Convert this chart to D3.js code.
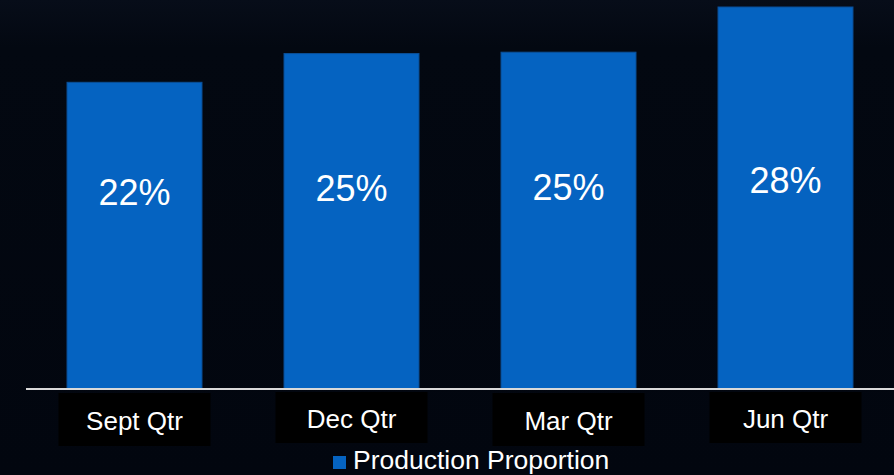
<!DOCTYPE html>
<html>
<head>
<meta charset="utf-8">
<script src="https://cdn.jsdelivr.net/npm/d3@7/dist/d3.min.js"></script>
<style>
  html, body { margin: 0; padding: 0; background: #02060f; }
  svg { display: block; }
</style>
</head>
<body>
<div id="chartDiv"></div>
<script>
// chart data
const categories = ["Sept Qtr", "Dec Qtr", "Mar Qtr", "Jun Qtr"];
const values = [22.4, 24.5, 24.6, 27.9];   // % production proportion
const legendLabel = "Production Proportion";

const width = 894,
    height = 475;
const margin = { left: 26, right: 0, top: 7, bottom: 86 };
const baseY = height - margin.bottom; // axis line

const svg = d3.select("#chartDiv")
    .append("svg")
    .attr("width", width)
    .attr("height", height);

// background, only a touch lighter at the top
const defs = svg.append("defs");
const grad = defs.append("linearGradient")
    .attr("id", "bg")
    .attr("x1", 0).attr("y1", 0).attr("x2", 0).attr("y2", 1);
grad.append("stop").attr("offset", "0%").attr("stop-color", "#070d19");
grad.append("stop").attr("offset", "10%").attr("stop-color", "#030811");
grad.append("stop").attr("offset", "100%").attr("stop-color", "#02060f");
svg.append("rect")
    .attr("width", width)
    .attr("height", height)
    .attr("fill", "url(#bg)");

const x = d3.scaleBand()
    .domain(categories)
    .range([margin.left, width - margin.right])
    .paddingInner(0.378)
    .paddingOuter(0.189);

const y = d3.scaleLinear()
    .domain([0, d3.max(values)])
    .range([baseY, margin.top]);

const data = categories.map((c, i) => ({ cat: c, value: values[i], i: i }));

// bars
svg.selectAll("rect.bar")
    .data(data)
    .enter()
    .append("rect")
    .attr("class", "bar")
    .attr("x", d => x(d.cat))
    .attr("y", d => y(d.value))
    .attr("width", x.bandwidth())
    .attr("height", d => y(0) - y(d.value))
    .attr("fill", "#0563c1")
    .attr("stroke", "#0b4f97")
    .attr("stroke-width", 1);

// value labels (sit a little lower on shorter bars)
svg.selectAll("text.val")
    .data(data)
    .enter()
    .append("text")
    .attr("class", "val")
    .attr("x", d => x(d.cat) + x.bandwidth() / 2)
    .attr("y", d => y(d.value) + (y(0) - y(d.value)) * 0.838 - 134)
    .attr("text-anchor", "middle")
    .attr("fill", "#ffffff")
    .style("font-family", "Liberation Sans, Arial, sans-serif")
    .style("font-size", "36px")
    .text(d => Math.round(d.value) + "%");

// axis line
svg.append("line")
    .attr("x1", margin.left)
    .attr("x2", width)
    .attr("y1", baseY)
    .attr("y2", baseY)
    .style("stroke", "#d9d9d9")
    .style("stroke-width", 2);

// category labels in black boxes
const cat = svg.selectAll("g.cat")
    .data(data)
    .enter()
    .append("g")
    .attr("class", "cat")
    .attr("transform", d => "translate(" + (x(d.cat) + x.bandwidth() / 2) + "," + (baseY + (d.i % 2 ? 3 : 4)) + ")");

cat.append("rect")
    .attr("x", -76)
    .attr("y", 0)
    .attr("width", 152)
    .attr("height", d => d.i % 2 ? 51 : 53)
    .attr("fill", "#000000");

cat.append("text")
    .attr("x", 0)
    .attr("y", d => d.i % 2 ? 36 : 37)
    .attr("text-anchor", "middle")
    .attr("fill", "#ffffff")
    .style("font-family", "Liberation Sans, Arial, sans-serif")
    .style("font-size", "26px")
    .text(d => d.cat);

// legend
const legend = svg.append("g")
    .attr("transform", "translate(333,469)");
legend.append("rect")
    .attr("x", 0)
    .attr("y", -13)
    .attr("width", 13)
    .attr("height", 13)
    .attr("fill", "#0563c1");
legend.append("text")
    .attr("x", 20)
    .attr("y", 0)
    .attr("fill", "#ffffff")
    .style("font-family", "Liberation Sans, Arial, sans-serif")
    .style("font-size", "26.5px")
    .text(legendLabel);
</script>
</body>
</html>
